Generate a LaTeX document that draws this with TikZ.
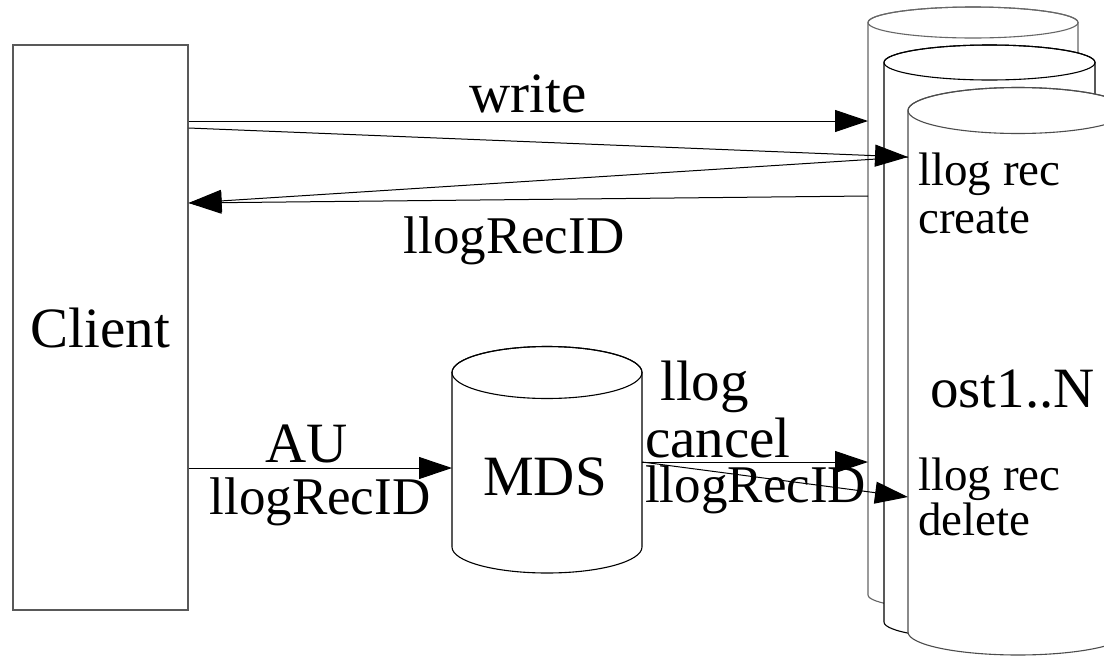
\documentclass[tikz,border=0pt]{standalone}
\usepackage{fontspec}
\setmainfont{Liberation Serif}
\usetikzlibrary{arrows.meta}

\tikzset{
  big/.style={inner sep=0pt, font=\fontsize{57}{57}\selectfont},
  idtxt/.style={inner sep=0pt, font=\fontsize{53}{53}\selectfont},
  osttxt/.style={inner sep=0pt, font=\fontsize{47}{48}\selectfont},
  conn/.style={line width=1pt, -{Triangle[length=33pt,width=22pt]}},
  hold/.style={inner sep=0pt, outer sep=0pt, draw=none, minimum width=#1},
}

% cylinder: left x, right x, top-cap centre y, bottom centre y, y radius, colour
\newcommand\cylshape[6]{%
  \pgfmathsetmacro\cylrx{(#2-#1)/2}%
  \filldraw[draw=#6, fill=white, line width=1.1pt]
    (#1,#3) -- (#1,#4)
    arc[start angle=180, end angle=360, x radius=\cylrx pt, y radius=#5pt]
    -- (#2,#3)
    arc[start angle=0, end angle=180, x radius=\cylrx pt, y radius=#5pt] -- cycle;
  \draw[#6, line width=1.1pt] ({(#1+#2)/2},#3) ellipse[x radius=\cylrx pt, y radius=#5pt];
}

\begin{document}
\begin{tikzpicture}[x=1pt, y=-1pt]
\useasboundingbox (0,0) rectangle (1104,662);
\clip (0,0) rectangle (1104,662);

% storage targets, back to front
\cylshape{868}{1078}{22.5}{595}{15.5}{black!60}
\cylshape{884}{1095}{62.5}{622}{17.5}{black}
\cylshape{908}{1128}{110.5}{632}{23}{black!70}

% metadata server
\cylshape{452}{642}{372.5}{547}{26}{black}

% anchor boxes for the cylinder bodies
\node[hold=210pt, minimum height=573pt] (ostA) at (973,308.75) {};
\node[hold=220pt, minimum height=521pt] (ostC) at (1018,371.25) {};
\node[hold=190pt, minimum height=175pt] (mds)  at (547,459.75) {};

% client box
\node[draw=black!65, line width=1.1pt, minimum width=175pt, minimum height=565pt,
      inner sep=0pt, font=\fontsize{57}{57}\selectfont] (client) at (100.5,327.5) {Client};

% node texts
\node[big, anchor=base] (mdstxt) at (545,495) {MDS};
\node[big, anchor=base west] (osttitle) at (930,407) {ost1..N};
\node[osttxt, anchor=base west] (crtxt1) at (918,185) {llog rec};
\node[osttxt, anchor=base west] (crtxt2) at (918,233) {create};
\node[osttxt, anchor=base west] (dltxt1) at (918,490) {llog rec};
\node[osttxt, anchor=base west] (dltxt2) at (918,535) {delete};

% connectors
\draw[conn] (client.east |- 0,121) -- (ostA.west |- 0,121);
\draw[conn] (client.east |- 0,128) -- (ostC.west |- 0,157);
\draw[conn] (ostC.west |- 0,157) -- (client.east |- 0,203);
\draw[conn] (ostA.west |- 0,196) -- (client.east |- 0,203);
\draw[conn] (client.east |- 0,468) -- (mds.west |- 0,468);
\draw[conn] (mds.east |- 0,462) -- (ostA.west |- 0,462);
\draw[conn] (mds.east |- 0,462) -- (ostC.west |- 0,497);

% connector labels
\node[big, anchor=base] (lwrite) at (528,112) {write};
\node[idtxt, anchor=base] (lret) at (514,253) {llogRecID};
\node[big, anchor=base] (lau) at (307,462) {AU};
\node[idtxt, anchor=base] (lauid) at (320,514) {llogRecID};
\node[big, anchor=base west] (lllog) at (660,400) {llog};
\node[big, anchor=base west] (lcancel) at (645,457) {cancel};
\node[idtxt, anchor=base west] (lcid) at (645,502) {llogRecID};
\end{tikzpicture}
\end{document}
